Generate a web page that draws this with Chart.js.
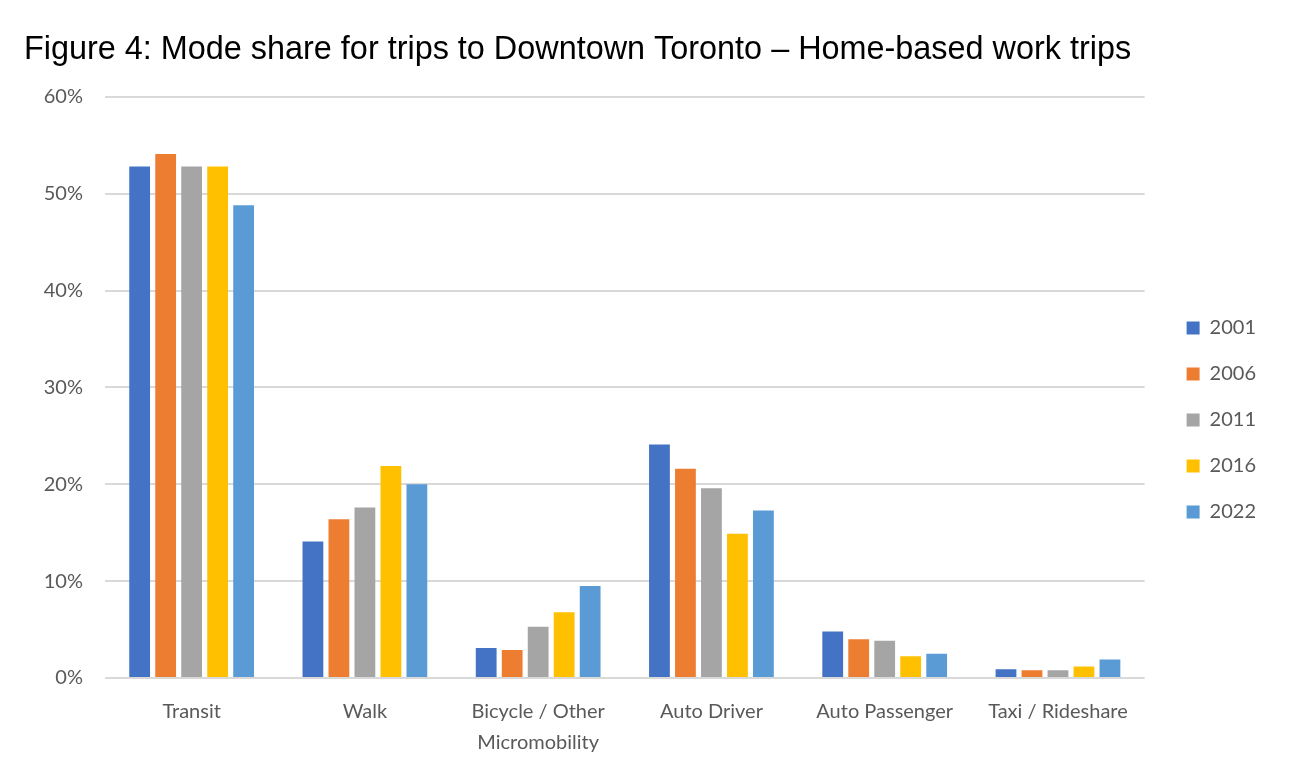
<!DOCTYPE html>
<html>
<head>
<meta charset="utf-8">
<script src="https://cdn.jsdelivr.net/npm/chart.js@4"></script>
<style>
  html, body { margin: 0; padding: 0; background: #fff; }
  #wrap { width: 1290px; height: 774px; position: relative; }
</style>
</head>
<body>
<div id="wrap"><canvas id="chart"></canvas></div>
<script>
// categories and series (percent of trips)
const modes = ['Transit', 'Walk', ['Bicycle / Other', 'Micromobility'], 'Auto Driver', 'Auto Passenger', 'Taxi / Rideshare'];
const years = ['2001', '2006', '2011', '2016', '2022'];
const share2001 = [52.8, 14.1, 3.1, 24.1, 4.8, 0.9];
const share2006 = [54.1, 16.4, 2.9, 21.6, 4.0, 0.8];
const share2011 = [52.8, 17.6, 5.3, 19.6, 3.85, 0.8];
const share2016 = [52.8, 21.9, 6.8, 14.9, 2.25, 1.2];
const share2022 = [48.8, 20.0, 9.5, 17.3, 2.5, 1.9];
const yTicks = [0, 10, 20, 30, 40, 50, 60];

const colors = ['#4472C4', '#ED7D31', '#A5A5A5', '#FFC000', '#5B9BD5'];
const series = [share2001, share2006, share2011, share2016, share2022];

const tickFont = { family: 'Lato', size: 20 };
const gray = '#595959';

// nudge legend away from the plot like the Excel original
const legendShift = {
  id: 'legendShift',
  afterLayout(chart) {
    const lg = chart.legend;
    lg.left += 16;
    lg.right += 30;
    lg.width += 14;
    lg.top += 33;
    lg.bottom += 33;
  }
};

new Chart(document.getElementById('chart'), {
  type: 'bar',
  data: {
    labels: modes,
    datasets: years.map((y, i) => ({
      label: y,
      data: series[i],
      backgroundColor: colors[i],
      barPercentage: 0.8,
      categoryPercentage: 0.75
    }))
  },
  options: {
    responsive: true,
    maintainAspectRatio: false,
    animation: false,
    layout: { padding: { left: 24, right: 40, top: 0, bottom: 0 } },
    plugins: {
      title: {
        display: true,
        text: 'Figure 4: Mode share for trips to Downtown Toronto \u2013 Home-based work trips',
        align: 'start',
        color: '#000',
        font: { family: 'Liberation Sans', size: 32.4, weight: 'normal' },
        padding: { top: 31, bottom: 27 }
      },
      legend: {
        position: 'right',
        labels: {
          boxWidth: 13,
          boxHeight: 13,
          padding: 26,
          color: gray,
          font: tickFont
        }
      },
      tooltip: { enabled: false }
    },
    scales: {
      x: {
        grid: { display: false, drawTicks: false },
        border: { display: false },
        ticks: {
          color: gray,
          font: { family: 'Lato', size: 20, lineHeight: 1.55 },
          padding: 18,
          maxRotation: 0,
          autoSkip: false
        },
        afterFit(scale) { scale.height = 96; }
      },
      y: {
        min: 0,
        max: 60,
        afterBuildTicks(scale) { scale.ticks = yTicks.map(v => ({ value: v })); },
        grid: { color: '#d9d9d9', lineWidth: 2, drawTicks: false },
        border: { display: false },
        ticks: {
          color: gray,
          font: tickFont,
          padding: 22,
          callback: v => v + '%'
        },
        afterFit(scale) { scale.width = 81; }
      }
    }
  },
  plugins: [legendShift]
});
</script>
</body>
</html>
